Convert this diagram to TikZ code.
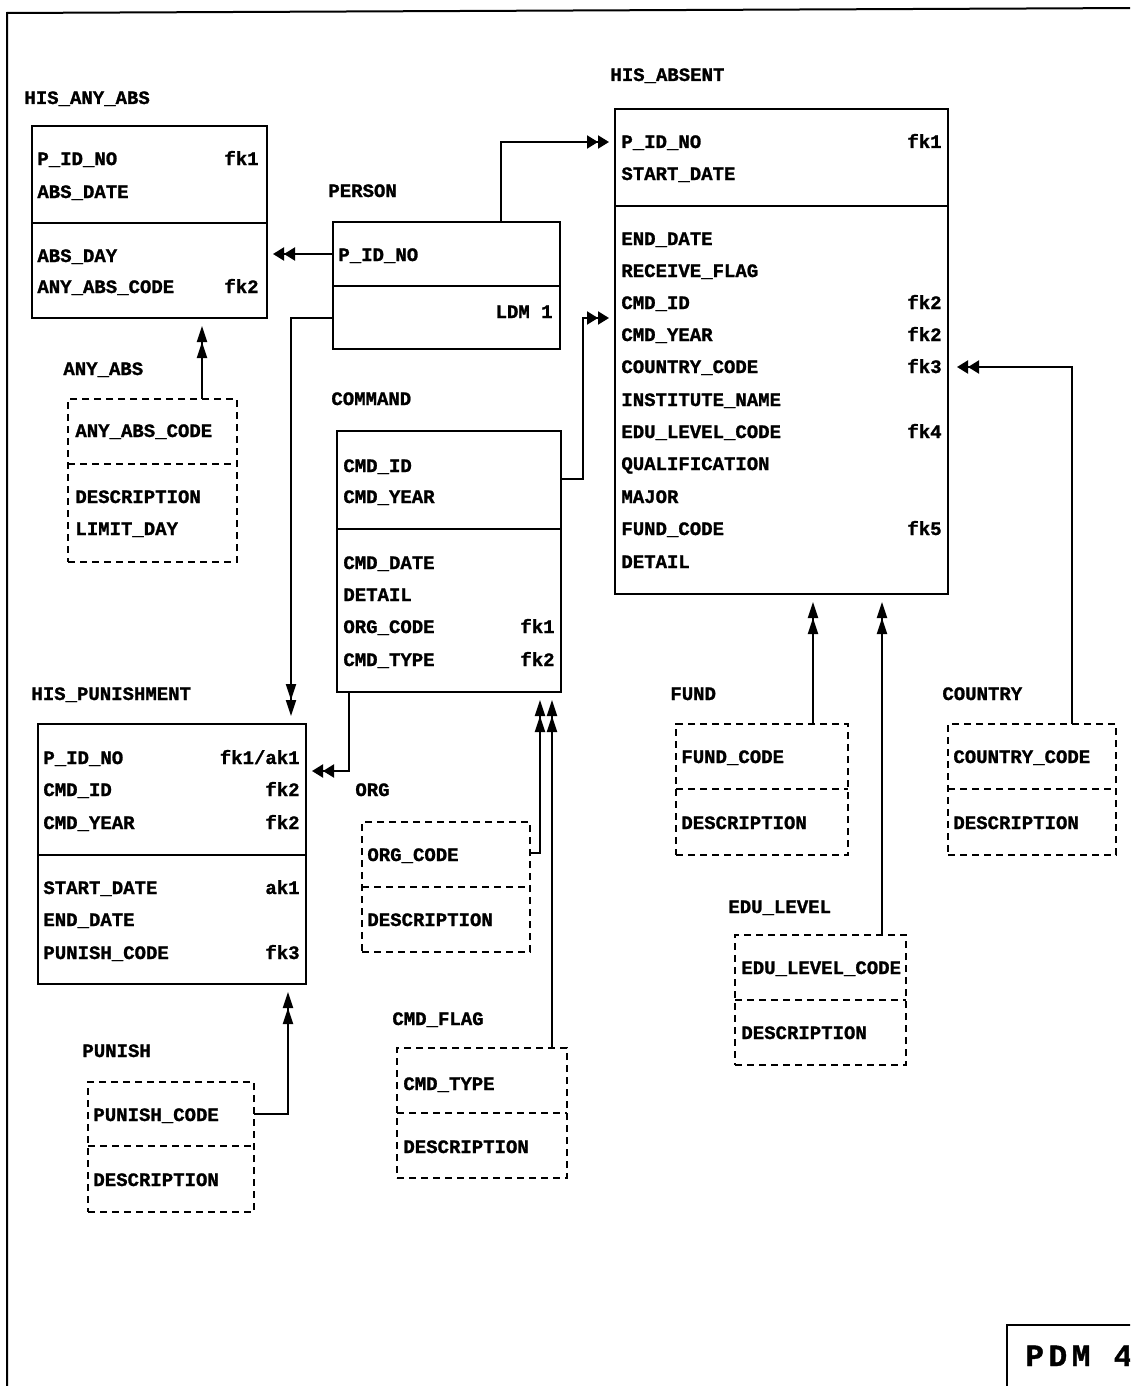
\documentclass[tikz,border=0pt]{standalone}
\usepackage{fontspec}
\setmonofont{Liberation Mono}[BoldFeatures={FakeBold=1.2}]
\newcommand\erf{\ttfamily\bfseries\fontsize{9.5}{11}\selectfont}
\newcommand\pdmf{\ttfamily\bfseries\fontsize{15.5}{18}\selectfont\addfontfeature{LetterSpace=15}}
\usetikzlibrary{arrows.meta,fit}
\begin{document}
\begin{tikzpicture}[x=0.5pt,y=-0.5pt,
  solidbox/.style={draw,line width=1pt,inner sep=0pt,outer sep=0pt},
  dashbox/.style={solidbox,dash pattern=on 3.6pt off 2.4pt},
  divsolid/.style={line width=1pt},
  divdash/.style={line width=1pt,dash pattern=on 3.6pt off 2.4pt},
  fld/.style={anchor=base west,inner sep=0pt,font=\erf},
  fkey/.style={anchor=base east,inner sep=0pt,font=\erf},
  ttl/.style={anchor=base west,inner sep=0pt,font=\erf},
  relh/.style={line width=1pt,-{Triangle[length=5.5pt,width=6.5pt]Triangle[length=5.5pt,width=6.5pt]},shorten >=3pt},
  relv/.style={line width=1pt,-{Triangle[length=8pt,width=5pt]Triangle[length=8pt,width=5pt]},shorten >=4pt}]
\useasboundingbox (0,0) rectangle (1130,1386);
\fill[white] (0,0) rectangle (1130,1386);
\clip (0,0) rectangle (1130,1386);
% outer frame
\draw[line width=1pt] (7,1400) -- (7,13) -- (1140,8);
% PDM label box
\node[solidbox,fit={(1007,1325) (1160,1420)}] (pdm) {};
\node[anchor=base west,inner sep=0pt,font=\pdmf] (pdmtext) at (1025,1366) {PDM 4};

% HIS_ANY_ABS
\node[ttl] (t-hisanyabs) at (24,104) {HIS\_ANY\_ABS};
\node[solidbox,fit={(32,126) (267,318)}] (hisanyabs) {};
\draw[divsolid] (hisanyabs.west |- 0,223) -- (hisanyabs.east |- 0,223);
\node[fld] (hisanyabs-1) at (37,165) {P\_ID\_NO};
\node[fkey] (hisanyabs-1k) at (259,165) {fk1};
\node[fld] (hisanyabs-2) at (37,198) {ABS\_DATE};
\node[fld] (hisanyabs-3) at (37,262) {ABS\_DAY};
\node[fld] (hisanyabs-4) at (37,293) {ANY\_ABS\_CODE};
\node[fkey] (hisanyabs-4k) at (259,293) {fk2};

% PERSON
\node[ttl] (t-person) at (328,197) {PERSON};
\node[solidbox,fit={(333,222) (560,349)}] (person) {};
\draw[divsolid] (person.west |- 0,286) -- (person.east |- 0,286);
\node[fld] (person-1) at (338,261) {P\_ID\_NO};
\node[fkey] (person-ldm) at (553,318) {LDM 1};

% HIS_ABSENT
\node[ttl] (t-hisabsent) at (610,81) {HIS\_ABSENT};
\node[solidbox,fit={(615,109) (948,594)}] (hisabsent) {};
\draw[divsolid] (hisabsent.west |- 0,206) -- (hisabsent.east |- 0,206);
\node[fld] (hisabsent-1) at (621,148) {P\_ID\_NO};
\node[fkey] (hisabsent-1k) at (942,148) {fk1};
\node[fld] (hisabsent-2) at (621,180) {START\_DATE};
\node[fld] (hisabsent-3) at (621,245) {END\_DATE};
\node[fld] (hisabsent-4) at (621,277) {RECEIVE\_FLAG};
\node[fld] (hisabsent-5) at (621,309) {CMD\_ID};
\node[fkey] (hisabsent-5k) at (942,309) {fk2};
\node[fld] (hisabsent-6) at (621,341) {CMD\_YEAR};
\node[fkey] (hisabsent-6k) at (942,341) {fk2};
\node[fld] (hisabsent-7) at (621,373) {COUNTRY\_CODE};
\node[fkey] (hisabsent-7k) at (942,373) {fk3};
\node[fld] (hisabsent-8) at (621,406) {INSTITUTE\_NAME};
\node[fld] (hisabsent-9) at (621,438) {EDU\_LEVEL\_CODE};
\node[fkey] (hisabsent-9k) at (942,438) {fk4};
\node[fld] (hisabsent-10) at (621,470) {QUALIFICATION};
\node[fld] (hisabsent-11) at (621,503) {MAJOR};
\node[fld] (hisabsent-12) at (621,535) {FUND\_CODE};
\node[fkey] (hisabsent-12k) at (942,535) {fk5};
\node[fld] (hisabsent-13) at (621,568) {DETAIL};

% ANY_ABS
\node[ttl] (t-anyabs) at (63,375) {ANY\_ABS};
\node[dashbox,fit={(68,399) (237,562)}] (anyabs) {};
\draw[divdash] (anyabs.west |- 0,464) -- (anyabs.east |- 0,464);
\node[fld] (anyabs-1) at (75,437) {ANY\_ABS\_CODE};
\node[fld] (anyabs-2) at (75,503) {DESCRIPTION};
\node[fld] (anyabs-3) at (75,535) {LIMIT\_DAY};

% COMMAND
\node[ttl] (t-command) at (331,405) {COMMAND};
\node[solidbox,fit={(337,431) (561,692)}] (command) {};
\draw[divsolid] (command.west |- 0,529) -- (command.east |- 0,529);
\node[fld] (command-1) at (343,472) {CMD\_ID};
\node[fld] (command-2) at (343,503) {CMD\_YEAR};
\node[fld] (command-3) at (343,569) {CMD\_DATE};
\node[fld] (command-4) at (343,601) {DETAIL};
\node[fld] (command-5) at (343,633) {ORG\_CODE};
\node[fkey] (command-5k) at (555,633) {fk1};
\node[fld] (command-6) at (343,666) {CMD\_TYPE};
\node[fkey] (command-6k) at (555,666) {fk2};

% HIS_PUNISHMENT
\node[ttl] (t-hispun) at (31,700) {HIS\_PUNISHMENT};
\node[solidbox,fit={(38,724) (306,984)}] (hispun) {};
\draw[divsolid] (hispun.west |- 0,855) -- (hispun.east |- 0,855);
\node[fld] (hispun-1) at (43,764) {P\_ID\_NO};
\node[fkey] (hispun-1k) at (300,764) {fk1/ak1};
\node[fld] (hispun-2) at (43,796) {CMD\_ID};
\node[fkey] (hispun-2k) at (300,796) {fk2};
\node[fld] (hispun-3) at (43,829) {CMD\_YEAR};
\node[fkey] (hispun-3k) at (300,829) {fk2};
\node[fld] (hispun-4) at (43,894) {START\_DATE};
\node[fkey] (hispun-4k) at (300,894) {ak1};
\node[fld] (hispun-5) at (43,926) {END\_DATE};
\node[fld] (hispun-6) at (43,959) {PUNISH\_CODE};
\node[fkey] (hispun-6k) at (300,959) {fk3};

% ORG
\node[ttl] (t-org) at (355,796) {ORG};
\node[dashbox,fit={(362,822) (530,952)}] (org) {};
\draw[divdash] (org.west |- 0,887) -- (org.east |- 0,887);
\node[fld] (org-1) at (367,861) {ORG\_CODE};
\node[fld] (org-2) at (367,926) {DESCRIPTION};

% CMD_FLAG
\node[ttl] (t-cmdflag) at (392,1025) {CMD\_FLAG};
\node[dashbox,fit={(397,1048) (567,1178)}] (cmdflag) {};
\draw[divdash] (cmdflag.west |- 0,1113) -- (cmdflag.east |- 0,1113);
\node[fld] (cmdflag-1) at (403,1090) {CMD\_TYPE};
\node[fld] (cmdflag-2) at (403,1153) {DESCRIPTION};

% PUNISH
\node[ttl] (t-punish) at (82,1057) {PUNISH};
\node[dashbox,fit={(88,1082) (254,1212)}] (punish) {};
\draw[divdash] (punish.west |- 0,1146) -- (punish.east |- 0,1146);
\node[fld] (punish-1) at (93,1121) {PUNISH\_CODE};
\node[fld] (punish-2) at (93,1186) {DESCRIPTION};

% FUND
\node[ttl] (t-fund) at (670,700) {FUND};
\node[dashbox,fit={(676,724) (848,855)}] (fund) {};
\draw[divdash] (fund.west |- 0,789) -- (fund.east |- 0,789);
\node[fld] (fund-1) at (681,763) {FUND\_CODE};
\node[fld] (fund-2) at (681,829) {DESCRIPTION};

% COUNTRY
\node[ttl] (t-country) at (942,700) {COUNTRY};
\node[dashbox,fit={(948,724) (1116,855)}] (country) {};
\draw[divdash] (country.west |- 0,789) -- (country.east |- 0,789);
\node[fld] (country-1) at (953,763) {COUNTRY\_CODE};
\node[fld] (country-2) at (953,829) {DESCRIPTION};

% EDU_LEVEL
\node[ttl] (t-edulevel) at (728,913) {EDU\_LEVEL};
\node[dashbox,fit={(735,935) (906,1065)}] (edulevel) {};
\draw[divdash] (edulevel.west |- 0,1000) -- (edulevel.east |- 0,1000);
\node[fld] (edulevel-1) at (741,974) {EDU\_LEVEL\_CODE};
\node[fld] (edulevel-2) at (741,1039) {DESCRIPTION};

% connectors
\draw[relh] (person.west |- 0,254) -- (hisanyabs.east |- 0,254);
\draw[relh] (person.north -| 501,0) |- (hisabsent.west |- 0,142);
\draw[relv] (person.west |- 0,318) -| (hispun.north -| 291,0);
\draw[relh] (command.east |- 0,479) -| (583,318) -- (hisabsent.west |- 0,318);
\draw[relh] (command.south -| 349,0) |- (hispun.east |- 0,771);
\draw[relv] (org.east |- 0,853) -| (command.south -| 540,0);
\draw[relv] (cmdflag.north -| 552,0) -- (command.south -| 552,0);
\draw[relv] (anyabs.north -| 202,0) -- (hisanyabs.south -| 202,0);
\draw[relv] (punish.east |- 0,1114) -| (hispun.south -| 288,0);
\draw[relv] (fund.north -| 813,0) -- (hisabsent.south -| 813,0);
\draw[relv] (edulevel.north -| 882,0) -- (hisabsent.south -| 882,0);
\draw[relh,shorten >=4.5pt] (country.north -| 1072,0) |- (hisabsent.east |- 0,367);
\end{tikzpicture}
\end{document}
